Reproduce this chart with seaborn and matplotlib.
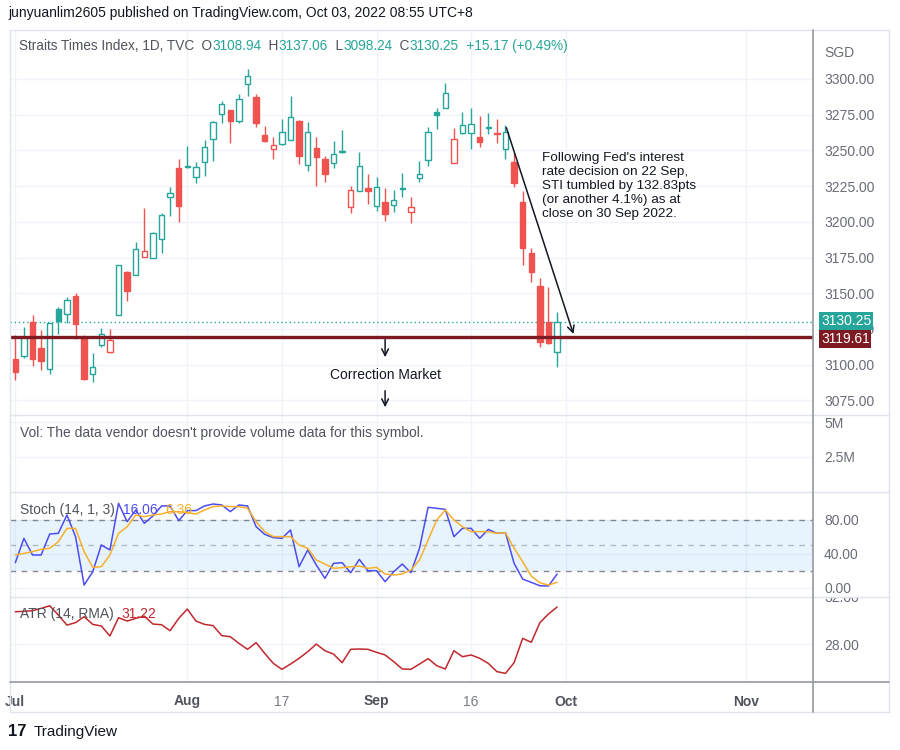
import numpy as np
import pandas as pd
import seaborn as sns
import matplotlib.pyplot as plt
import matplotlib.transforms as mtransforms
from matplotlib.lines import Line2D

# Straits Times Index daily candles, 1 Jul - 30 Sep 2022
opens = [3103.8, 3106.1, 3129.9, 3111.5, 3096.8, 3138.8, 3135.5, 3148.1, 3119.6, 3093.5,
         3113.6, 3109.1, 3134.8, 3165.1, 3162.8, 3175.6, 3174.5, 3187.8, 3217.2, 3237.9,
         3239.1, 3231.2, 3241.7, 3258.0, 3275.3, 3278.3, 3270.8, 3296.5, 3287.2, 3261.0,
         3250.8, 3254.3, 3257.3, 3270.6, 3239.8, 3251.5, 3243.8, 3241.0, 3249.1, 3210.2,
         3221.6, 3223.9, 3211.3, 3214.1, 3211.8, 3223.2, 3207.1, 3230.5, 3243.3, 3277.1,
         3279.9, 3241.0, 3262.0, 3262.0, 3259.6, 3265.5, 3262.0, 3250.8, 3242.1, 3214.1,
         3178.0, 3155.1, 3130.1, 3108.94]
highs = [3120.8, 3126.6, 3134.8, 3124.3, 3129.0, 3140.6, 3147.2, 3150.0, 3120.6, 3108.0,
         3125.5, 3124.8, 3169.8, 3165.8, 3186.1, 3209.5, 3193.1, 3206.4, 3224.6, 3243.8,
         3253.1, 3242.1, 3257.3, 3270.6, 3284.8, 3278.3, 3289.5, 3307.0, 3289.5, 3267.1,
         3259.2, 3271.8, 3288.3, 3271.3, 3270.1, 3259.2, 3246.1, 3256.6, 3264.3, 3225.3,
         3249.1, 3233.5, 3231.6, 3223.5, 3222.3, 3234.0, 3217.2, 3242.8, 3266.6, 3279.5,
         3297.4, 3265.9, 3277.1, 3279.5, 3274.1, 3276.0, 3271.8, 3267.8, 3248.0, 3221.8,
         3181.5, 3160.5, 3154.6, 3137.06]
lows = [3089.3, 3104.5, 3099.1, 3096.3, 3093.5, 3121.5, 3129.0, 3117.8, 3089.3, 3088.1,
        3112.2, 3108.0, 3134.8, 3144.8, 3162.8, 3175.6, 3174.5, 3178.4, 3204.1, 3200.1,
        3237.5, 3227.4, 3232.1, 3242.6, 3269.0, 3255.4, 3269.4, 3288.1, 3266.2, 3256.1,
        3244.0, 3253.6, 3257.3, 3240.3, 3235.6, 3225.1, 3228.1, 3237.9, 3248.4, 3206.0,
        3221.6, 3212.3, 3207.8, 3200.6, 3207.1, 3217.2, 3199.0, 3227.7, 3239.1, 3264.8,
        3279.5, 3241.0, 3261.5, 3250.8, 3252.2, 3261.5, 3255.0, 3243.8, 3224.6, 3169.8,
        3158.1, 3112.6, 3114.5, 3098.24]
closes = [3095.1, 3119.6, 3103.8, 3102.5, 3129.0, 3130.8, 3145.3, 3128.3, 3089.8, 3098.6,
          3121.3, 3117.3, 3169.8, 3151.8, 3180.8, 3179.8, 3192.0, 3204.8, 3220.0, 3211.3,
          3238.2, 3238.6, 3252.2, 3270.1, 3282.3, 3270.8, 3285.8, 3302.1, 3269.0, 3256.4,
          3253.6, 3262.7, 3273.2, 3246.3, 3262.7, 3245.6, 3233.3, 3247.3, 3249.8, 3222.3,
          3239.1, 3221.6, 3224.2, 3205.5, 3215.3, 3223.9, 3210.2, 3233.3, 3263.1, 3274.8,
          3290.0, 3257.8, 3267.8, 3268.3, 3256.1, 3266.6, 3261.5, 3263.1, 3227.0, 3181.5,
          3164.9, 3116.1, 3115.08, 3130.25]

stoch_k = [29.5, 58.3, 38.6, 38.6, 63.4, 64.2, 85.9, 60.3, 3.0, 18.8,
           50.4, 44.5, 99.7, 78.0, 91.8, 76.1, 84.7, 96.6, 96.6, 79.2,
           91.1, 91.1, 96.6, 98.9, 97.8, 89.9, 97.8, 96.6, 72.1, 63.0,
           59.1, 58.3, 68.2, 24.7, 44.5, 26.7, 10.9, 28.7, 29.5, 17.6,
           33.4, 20.0, 20.0, 7.0, 18.8, 27.9, 17.6, 46.5, 95.0, 93.8,
           92.6, 60.3, 70.1, 70.1, 58.3, 68.9, 64.2, 65.0, 28.7, 10.1,
           6.2, 2.2, 1.9, 16.06]
stoch_d = [38.6, 40.5, 42.5, 45.3, 46.5, 54.3, 70.1, 70.1, 42.5, 24.0,
           24.7, 38.6, 64.2, 72.1, 85.9, 83.9, 85.9, 87.1, 89.9, 89.9,
           88.7, 87.1, 91.8, 95.8, 96.6, 95.8, 95.8, 93.8, 78.0, 66.2,
           60.3, 60.3, 60.3, 50.4, 46.5, 32.6, 27.9, 22.8, 23.6, 24.7,
           25.5, 22.8, 24.0, 16.1, 14.9, 16.1, 20.8, 32.6, 56.3, 80.0,
           91.8, 80.0, 72.1, 66.2, 66.2, 66.2, 64.2, 65.0, 46.5, 30.7,
           13.7, 5.8, 3.0, 6.36]
atr = [30.81, 30.84, 30.90, 31.10, 31.33, 30.52, 29.65, 29.86, 30.38, 29.71,
       29.57, 28.70, 30.29, 30.00, 30.23, 30.43, 29.74, 29.68, 29.16, 30.23,
       31.04, 30.00, 29.71, 29.60, 28.73, 28.64, 28.06, 27.54, 28.12, 27.19,
       26.32, 25.80, 26.26, 26.76, 27.33, 28.00, 27.42, 27.13, 26.38, 27.54,
       27.57, 27.54, 27.28, 27.05, 26.47, 25.83, 25.80, 26.26, 26.73, 26.12,
       25.83, 27.42, 26.90, 27.05, 26.76, 26.32, 25.60, 25.45, 26.38, 28.49,
       28.15, 29.86, 30.61, 31.22]

tick_pos = [0, 20, 31, 42, 53, 64, 85]
tick_labels = ["Jul", "Aug", "17", "Sep", "16", "Oct", "Nov"]
price_ticks = [3075, 3100, 3125, 3150, 3175, 3200, 3225, 3250, 3275, 3300]
last_close = 3130.25
support_level = 3119.61

GREEN = "#26A69A"
RED = "#EF5350"
MAROON = "#7E1A22"
GRID = "#F0F3FA"
AXIS_TXT = "#6A6D78"
LEG_TXT = "#50535E"
INK = "#131722"
K_COL = "#4C4CF0"
D_COL = "#F7B02C"
ATR_COL = "#C0282D"

sns.set_theme(style="white")
plt.rcParams["font.family"] = ["Liberation Sans", "DejaVu Sans"]

W, H = 900, 750
fig = plt.figure(figsize=(9, 7.5), dpi=100)
fig.patch.set_facecolor("white")


def box(x0, y0, x1, y1):
    return [x0 / W, 1 - y1 / H, (x1 - x0) / W, (y1 - y0) / H]


ax_p = fig.add_axes(box(10, 30, 813, 415))
ax_v = fig.add_axes(box(10, 415, 813, 492))
ax_s = fig.add_axes(box(10, 492, 813, 597))
ax_a = fig.add_axes(box(10, 597, 813, 682))

for ax in (ax_p, ax_v, ax_s, ax_a):
    ax.set_xlim(-0.62, 92.76)
    for sp in ax.spines.values():
        sp.set_visible(False)
    ax.yaxis.tick_right()
    ax.tick_params(axis="y", length=0, pad=8, labelsize=10, labelcolor=AXIS_TXT)
    ax.tick_params(axis="x", length=0)
    ax.set_xticks(tick_pos)
    ax.set_xticklabels([])
    ax.grid(True, color=GRID, lw=1)
    ax.set_axisbelow(True)
    ax.set_facecolor("white")

# ---- price pane
ax_p.set_ylim(3064.8, 3334.3)
ax_p.set_yticks(price_ticks)
ax_p.set_yticklabels([f"{v:.2f}" for v in price_ticks])

df = pd.DataFrame({"o": opens, "h": highs, "l": lows, "c": closes})
x = np.arange(len(df))
up = (df.c >= df.c.shift(1)).to_numpy()
up[0] = False
cols = np.where(up, GREEN, RED)
hollow = (df.c > df.o).to_numpy()
lo = df[["o", "c"]].min(axis=1)
hi = df[["o", "c"]].max(axis=1)
ax_p.vlines(x, df.l, df.h, colors=cols, lw=1, zorder=2)
ax_p.bar(x, np.maximum(hi - lo, 0.7), bottom=lo, width=0.62,
         color=np.where(hollow, "white", cols), edgecolor=cols, linewidth=1, zorder=3)

ax_p.axhline(last_close, color=GREEN, lw=1, ls=(0, (1, 2)), zorder=1)
ax_p.axhline(support_level, color=MAROON, lw=2.4, zorder=4)

# price labels on the right scale
bt = mtransforms.blended_transform_factory(ax_p.transAxes, ax_p.transData)
ax_p.text(1 + 8 / 803, 3130.6, f"{last_close:.2f}", transform=bt, color="white",
          fontsize=10, va="center", ha="left", clip_on=False,
          bbox=dict(boxstyle="square,pad=0.12", fc=GREEN, ec="none"))
ax_p.text(1 + 8 / 803, 3118.0, f"{support_level:.2f}", transform=bt, color="white",
          fontsize=10, va="center", ha="left", clip_on=False,
          bbox=dict(boxstyle="square,pad=0.12", fc=MAROON, ec="none"))
ax_p.text(1 + 11 / 803, 3318, "SGD", transform=bt, color=AXIS_TXT, fontsize=10,
          va="center", ha="left", clip_on=False)

# annotations
ax_p.annotate("", xy=(65, support_level), xytext=(57, highs[57]),
              arrowprops=dict(arrowstyle="->", color=INK, lw=1.1))
ax_p.text(61.2, 3249, "Following Fed's interest\nrate decision on 22 Sep,\nSTI tumbled by 132.83pts\n"
          "(or another 4.1%) as at\nclose on 30 Sep 2022.", fontsize=9.7, color=INK,
          va="top", ha="left", linespacing=1.22)
ax_p.annotate("", xy=(43, 3103.3), xytext=(43, support_level),
              arrowprops=dict(arrowstyle="->", color=INK, lw=1.1))
ax_p.text(43, 3093, "Correction Market", fontsize=10, color=INK, ha="center", va="center")
ax_p.annotate("", xy=(43, 3068.3), xytext=(43, 3083.7),
              arrowprops=dict(arrowstyle="->", color=INK, lw=1.1))


def chain_text(x0, y0, parts, size=10):
    # coloured pieces placed one after another on the same baseline
    prev = fig.text(x0 / W, 1 - y0 / H, parts[0][0], color=parts[0][1], fontsize=size,
                    va="baseline", ha="left")
    for s, c in parts[1:]:
        prev = fig.add_artist(plt.Annotation(s, xy=(1, 0), xycoords=prev, color=c,
                                             fontsize=size, va="bottom", ha="left"))
    return prev


chg = closes[-1] - closes[-2]
pct = (closes[-1] / closes[-2] - 1) * 100
chain_text(19, 50, [("Straits Times Index, 1D, TVC", LEG_TXT), ("  O", LEG_TXT), (f"{opens[-1]:.2f}", GREEN),
                    ("  H", LEG_TXT), (f"{highs[-1]:.2f}", GREEN), ("  L", LEG_TXT),
                    (f"{lows[-1]:.2f}", GREEN), ("  C", LEG_TXT), (f"{closes[-1]:.2f}", GREEN),
                    (f"  {chg:+.2f} ({pct:+.2f}%)", GREEN)], size=9.8)
chain_text(20, 514, [("Stoch (14, 1, 3)  ", LEG_TXT), (f"{stoch_k[-1]:.2f}", K_COL),
                     ("  ", LEG_TXT), (f"{stoch_d[-1]:.2f}", D_COL)])
chain_text(20, 618, [("ATR (14, RMA)  ", LEG_TXT), (f"{atr[-1]:.2f}", ATR_COL)])

fig.text(8 / W, 1 - 17 / H, "junyuanlim2605 published on TradingView.com, Oct 03, 2022 08:55 UTC+8",
         fontsize=10, color=INK, va="baseline", ha="left")

# ---- volume pane
ax_v.set_ylim(0, 5.5e6)
ax_v.set_yticks([2.5e6, 5e6])
ax_v.set_yticklabels(["2.5M", "5M"])
ax_v.text(10 / 803, 1 - 18 / 77, "Vol: The data vendor doesn't provide volume data for this symbol.",
          transform=ax_v.transAxes, fontsize=10, color=LEG_TXT, va="center", ha="left")

# ---- stochastic pane
ax_s.set_ylim(-11.1, 113.1)
ax_s.set_yticks([0, 40, 80])
ax_s.set_yticklabels(["0.00", "40.00", "80.00"])
ax_s.axhspan(20, 80, color="#2196F3", alpha=0.1, lw=0)
for lvl in (20, 50, 80):
    ax_s.axhline(lvl, color="#787B86", lw=1, ls=(0, (4, 4)), alpha=0.9 if lvl != 50 else 0.5)
sns.lineplot(x=x, y=stoch_k, ax=ax_s, color=K_COL, lw=1.1, legend=False)
sns.lineplot(x=x, y=stoch_d, ax=ax_s, color=D_COL, lw=1.1, legend=False)
ax_s.set_xlabel("")
ax_s.set_ylabel("")

# ---- ATR pane
ax_a.set_ylim(24.70, 32.09)
ax_a.set_yticks([28])
ax_a.set_yticklabels(["28.00"])
sns.lineplot(x=x, y=atr, ax=ax_a, color=ATR_COL, lw=1.1, legend=False)
ax_a.set_xlabel("")
ax_a.set_ylabel("")
t32 = ax_a.text(1 + 11 / 803, 32, "32.00", transform=mtransforms.blended_transform_factory(
    ax_a.transAxes, ax_a.transData), fontsize=10, color=AXIS_TXT, va="center", ha="left")
t32.set_clip_box(mtransforms.Bbox.from_extents(800, 0, 900, H - 597))
t32.set_clip_on(True)

ax_a.set_xticklabels(tick_labels)
ax_a.tick_params(axis="x", pad=9, labelsize=10)
for lab in ax_a.get_xticklabels():
    if lab.get_text().isdigit():
        lab.set_color("#787B86")
    else:
        lab.set_color(LEG_TXT)
        lab.set_fontweight("bold")


# ---- frame lines
def fline(x0, y0, x1, y1, c, lw=1):
    fig.add_artist(Line2D([x0 / W, x1 / W], [1 - y0 / H, 1 - y1 / H], color=c, lw=lw,
                          transform=fig.transFigure))


fline(10, 30, 889, 30, "#E0E3EB")
fline(10, 712, 889, 712, "#E0E3EB")
fline(10, 30, 10, 712, "#E0E3EB")
fline(889, 30, 889, 712, "#E0E3EB")
for yy in (415, 492, 597):
    fline(10, yy, 889, yy, "#E0E3EB")
fline(10, 682, 889, 682, "#9598A1", 1.2)
fline(813, 30, 813, 712, "#9598A1", 1.2)

# footer logo
fig.text(8 / W, 1 - 736 / H, "17", fontsize=12, fontweight="heavy", color=INK, va="baseline")
fig.text(34 / W, 1 - 736 / H, "TradingView", fontsize=11, color=INK, va="baseline")

fig.savefig("out.png", dpi=100, facecolor="white")
